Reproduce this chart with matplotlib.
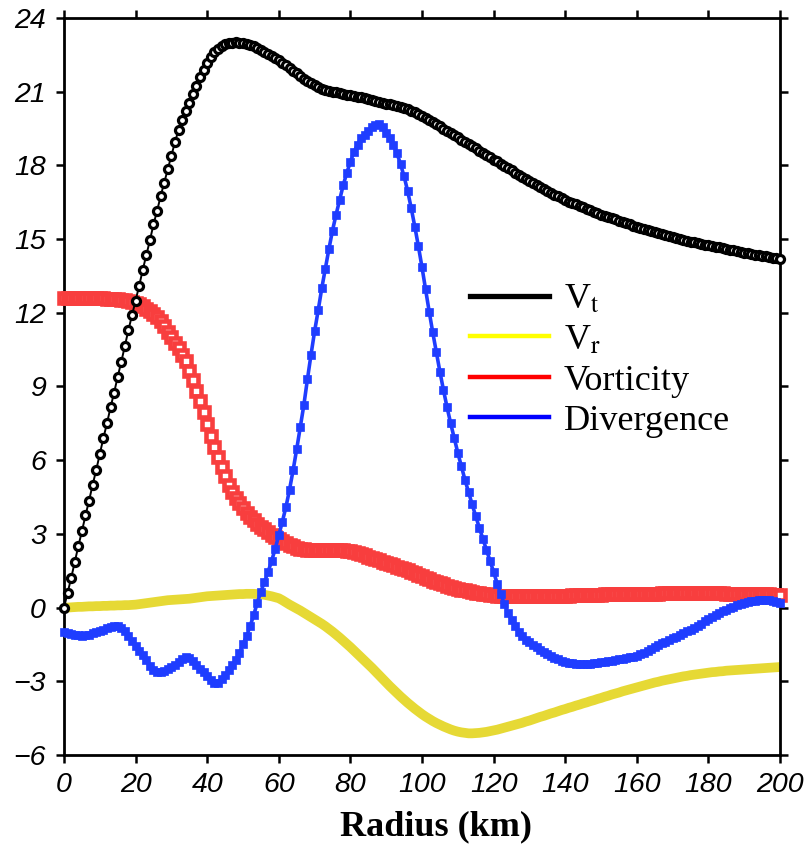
"""Radial profiles of tangential/radial wind, vorticity and divergence."""
import matplotlib

matplotlib.use("Agg")

import matplotlib.pyplot as plt  # noqa: E402
import numpy as np  # noqa: E402
from matplotlib.lines import Line2D  # noqa: E402

radius = np.arange(0, 201)  # km, one sample per km

vt = [
    0.0, 0.6, 1.2, 1.85, 2.5, 3.1, 3.75, 4.35, 5.0, 5.6,
    6.25, 6.9, 7.5, 8.15, 8.75, 9.4, 10.0, 10.65, 11.3, 11.9,
    12.5, 13.1, 13.75, 14.35, 14.95, 15.6, 16.15, 16.75, 17.3, 17.85,
    18.4, 18.95, 19.45, 19.85, 20.2, 20.55, 20.9, 21.25, 21.6, 21.9,
    22.15, 22.4, 22.6, 22.75, 22.85, 22.93, 22.98, 23.0, 23.02, 23.0,
    22.98, 22.95, 22.9, 22.85, 22.78, 22.7, 22.62, 22.53, 22.45, 22.37,
    22.28, 22.18, 22.08, 21.97, 21.86, 21.75, 21.64, 21.53, 21.43, 21.34,
    21.26, 21.19, 21.13, 21.08, 21.04, 21.0, 20.97, 20.94, 20.91, 20.88,
    20.85, 20.83, 20.8, 20.77, 20.74, 20.7, 20.67, 20.63, 20.6, 20.56,
    20.52, 20.49, 20.45, 20.41, 20.37, 20.33, 20.28, 20.22, 20.16, 20.1,
    20.03, 19.95, 19.86, 19.77, 19.68, 19.59, 19.5, 19.41, 19.32, 19.23,
    19.14, 19.05, 18.96, 18.87, 18.78, 18.69, 18.6, 18.51, 18.42, 18.33,
    18.24, 18.16, 18.07, 17.98, 17.89, 17.8, 17.71, 17.62, 17.53, 17.44,
    17.35, 17.27, 17.19, 17.11, 17.03, 16.95, 16.88, 16.81, 16.74, 16.67,
    16.6, 16.53, 16.47, 16.41, 16.35, 16.29, 16.23, 16.17, 16.11, 16.05,
    16.0, 15.95, 15.9, 15.85, 15.8, 15.75, 15.7, 15.65, 15.6, 15.55,
    15.5, 15.45, 15.41, 15.36, 15.32, 15.27, 15.23, 15.19, 15.15, 15.11,
    15.07, 15.04, 15.0, 14.97, 14.93, 14.9, 14.87, 14.84, 14.81, 14.78,
    14.75, 14.72, 14.69, 14.66, 14.63, 14.6, 14.57, 14.54, 14.51, 14.48,
    14.45, 14.42, 14.4, 14.37, 14.35, 14.32, 14.3, 14.27, 14.25, 14.22,
    14.2,
]

vr = [
    0.0, 0.0, 0.01, 0.02, 0.03, 0.03, 0.04, 0.05, 0.05, 0.06,
    0.06, 0.07, 0.07, 0.08, 0.08, 0.09, 0.09, 0.1, 0.1, 0.11,
    0.12, 0.14, 0.16, 0.18, 0.2, 0.22, 0.24, 0.26, 0.28, 0.3,
    0.31, 0.32, 0.33, 0.34, 0.35, 0.36, 0.38, 0.4, 0.42, 0.44,
    0.46, 0.47, 0.48, 0.49, 0.5, 0.51, 0.52, 0.53, 0.54, 0.55,
    0.55, 0.56, 0.56, 0.56, 0.55, 0.54, 0.52, 0.49, 0.46, 0.42,
    0.38, 0.3, 0.21, 0.12, 0.04, -0.04, -0.12, -0.21, -0.3, -0.39,
    -0.48, -0.57, -0.66, -0.76, -0.87, -0.98, -1.1, -1.22, -1.35, -1.48,
    -1.61, -1.75, -1.89, -2.03, -2.17, -2.31, -2.45, -2.6, -2.75, -2.9,
    -3.05, -3.2, -3.34, -3.48, -3.62, -3.75, -3.88, -4.0, -4.12, -4.23,
    -4.34, -4.44, -4.53, -4.62, -4.7, -4.77, -4.84, -4.9, -4.96, -5.01,
    -5.05, -5.08, -5.1, -5.12, -5.12, -5.11, -5.1, -5.08, -5.06, -5.03,
    -5.0, -4.97, -4.93, -4.89, -4.85, -4.81, -4.77, -4.73, -4.69, -4.64,
    -4.6, -4.55, -4.5, -4.45, -4.41, -4.36, -4.31, -4.27, -4.22, -4.17,
    -4.13, -4.08, -4.04, -3.99, -3.95, -3.9, -3.86, -3.81, -3.77, -3.72,
    -3.68, -3.63, -3.59, -3.54, -3.5, -3.46, -3.41, -3.37, -3.33, -3.29,
    -3.25, -3.21, -3.17, -3.13, -3.09, -3.05, -3.02, -2.98, -2.95, -2.92,
    -2.89, -2.86, -2.83, -2.8, -2.78, -2.75, -2.73, -2.71, -2.69, -2.67,
    -2.65, -2.63, -2.62, -2.6, -2.59, -2.57, -2.56, -2.55, -2.54, -2.53,
    -2.52, -2.51, -2.5, -2.49, -2.48, -2.47, -2.46, -2.45, -2.44, -2.43,
    -2.42,
]

vorticity = [
    12.6, 12.6, 12.61, 12.61, 12.6, 12.6, 12.59, 12.59, 12.6, 12.6,
    12.6, 12.59, 12.58, 12.58, 12.57, 12.56, 12.54, 12.52, 12.49, 12.45,
    12.4, 12.34, 12.26, 12.17, 12.07, 11.95, 11.82, 11.65, 11.45, 11.22,
    11.0, 10.77, 10.55, 10.3, 10.02, 9.65, 9.25, 8.82, 8.4, 7.95,
    7.48, 7.0, 6.52, 6.12, 5.73, 5.35, 5.0, 4.72, 4.48, 4.27,
    4.05, 3.85, 3.7, 3.55, 3.42, 3.3, 3.18, 3.07, 2.97, 2.88,
    2.79, 2.7, 2.62, 2.55, 2.49, 2.44, 2.4, 2.37, 2.35, 2.34,
    2.33, 2.33, 2.33, 2.34, 2.35, 2.35, 2.36, 2.35, 2.34, 2.32,
    2.3, 2.27, 2.23, 2.18, 2.13, 2.07, 2.02, 1.97, 1.92, 1.87,
    1.82, 1.77, 1.72, 1.67, 1.62, 1.57, 1.52, 1.46, 1.4, 1.34,
    1.28, 1.22, 1.16, 1.1, 1.04, 0.99, 0.94, 0.89, 0.85, 0.81,
    0.77, 0.73, 0.7, 0.67, 0.64, 0.61, 0.58, 0.56, 0.54, 0.52,
    0.5, 0.49, 0.48, 0.47, 0.47, 0.46, 0.46, 0.46, 0.46, 0.46,
    0.46, 0.46, 0.46, 0.46, 0.47, 0.47, 0.47, 0.48, 0.48, 0.48,
    0.49, 0.49, 0.5, 0.5, 0.51, 0.51, 0.52, 0.52, 0.53, 0.53,
    0.53, 0.54, 0.54, 0.54, 0.55, 0.55, 0.55, 0.55, 0.56, 0.56,
    0.56, 0.56, 0.57, 0.57, 0.57, 0.57, 0.57, 0.58, 0.58, 0.58,
    0.58, 0.58, 0.58, 0.58, 0.58, 0.58, 0.58, 0.58, 0.58, 0.58,
    0.58, 0.58, 0.58, 0.58, 0.58, 0.57, 0.57, 0.57, 0.57, 0.57,
    0.56, 0.56, 0.56, 0.55, 0.55, 0.55, 0.54, 0.54, 0.53, 0.53,
    0.52,
]

divergence = [
    -1.0, -1.05, -1.08, -1.1, -1.12, -1.14, -1.13, -1.1, -1.05, -1.0,
    -0.95, -0.9, -0.85, -0.8, -0.77, -0.76, -0.82, -0.95, -1.15, -1.35,
    -1.55, -1.75, -1.95, -2.15, -2.38, -2.55, -2.63, -2.62, -2.57, -2.5,
    -2.42, -2.33, -2.22, -2.1, -2.02, -2.05, -2.18, -2.33, -2.48, -2.63,
    -2.78, -2.93, -3.05, -3.06, -2.92, -2.75, -2.55, -2.35, -2.15, -1.85,
    -1.5, -1.15, -0.75, -0.3, 0.2, 0.65, 1.05, 1.45, 1.9, 2.4,
    2.95, 3.5, 4.1, 4.8, 5.6, 6.45, 7.35, 8.25, 9.3, 10.3,
    11.25, 12.1, 13.0, 13.8, 14.6, 15.35, 16.0, 16.6, 17.2, 17.7,
    18.15, 18.55, 18.85, 19.1, 19.25, 19.4, 19.55, 19.65, 19.7, 19.55,
    19.3, 19.1, 18.85, 18.5, 18.05, 17.55, 16.95, 16.25, 15.5, 14.7,
    13.85, 12.95, 12.05, 11.2, 10.4, 9.6, 8.85, 8.15, 7.5, 6.9,
    6.3, 5.75, 5.2, 4.7, 4.2, 3.72, 3.25, 2.8, 2.35, 1.9,
    1.45, 0.98, 0.55, 0.15, -0.22, -0.5, -0.76, -1.0, -1.17, -1.3,
    -1.42, -1.52, -1.62, -1.72, -1.82, -1.9, -1.98, -2.05, -2.11, -2.16,
    -2.2, -2.24, -2.27, -2.29, -2.3, -2.3, -2.29, -2.28, -2.27, -2.25,
    -2.23, -2.21, -2.19, -2.16, -2.13, -2.1, -2.08, -2.05, -2.02, -2.0,
    -1.96, -1.91, -1.85, -1.78, -1.7, -1.62, -1.54, -1.46, -1.39, -1.32,
    -1.25, -1.18, -1.11, -1.04, -0.97, -0.9, -0.82, -0.74, -0.65, -0.56,
    -0.47, -0.38, -0.3, -0.22, -0.15, -0.08, -0.02, 0.04, 0.1, 0.15,
    0.2, 0.23, 0.26, 0.28, 0.3, 0.31, 0.31, 0.3, 0.27, 0.22,
    0.17,
]

XTICKS = list(range(0, 201, 20))
YTICKS = list(range(-6, 25, 3))

YELLOW = "#e6d935"
RED = "#f83e3e"
BLUE = "#1f3dff"

plt.rcParams["mathtext.fontset"] = "stix"

fig = plt.figure(figsize=(8.09, 8.46), dpi=100)
ax = fig.add_axes([0.0791, 0.1076, 0.8851, 0.8711])

ax.plot(radius, vr, color=YELLOW, lw=7.0, solid_capstyle="butt",
        clip_on=False, zorder=2)
ax.plot(radius, vorticity, ls="none", marker="s", ms=6.6, mfc="white",
        mec=RED, mew=3.3, clip_on=False, zorder=3)
ax.plot(radius, vt, color="black", lw=1.4, marker="o", ms=5.8, mfc="white",
        mec="black", mew=2.3, clip_on=False, zorder=4)
ax.plot(radius, divergence, color=BLUE, lw=2.6, marker="s", ms=6.0,
        mfc=BLUE, mec=BLUE, mew=0.5, clip_on=False, zorder=5)

ax.set_xlim(0, 200)
ax.set_ylim(-6, 24)
ax.set_xticks(XTICKS)
ax.set_yticks(YTICKS)
for s in ax.spines.values():
    s.set_linewidth(2.0)
ax.tick_params(axis="both", direction="out", length=6, width=1.8,
               top=True, right=True, labelsize=20.5)
ax.tick_params(axis="x", pad=6)
ax.tick_params(axis="y", pad=7)
for lab in ax.get_xticklabels() + ax.get_yticklabels():
    lab.set_family("Liberation Sans")
    lab.set_style("italic")

ax.set_xlabel("Radius (km)", family="Liberation Serif", weight="bold",
              fontsize=26)
ax.xaxis.set_label_coords(0.52, -0.075)

handles = [
    Line2D([], [], color="black", lw=3.8),
    Line2D([], [], color="#ffff00", lw=3.2),
    Line2D([], [], color="#ff0000", lw=3.2),
    Line2D([], [], color="#0000ff", lw=3.2),
]
labels = [r"V$_\mathrm{t}$", r"V$_\mathrm{r}$", "Vorticity", "Divergence"]
ax.legend(handles, labels, loc="upper left", bbox_to_anchor=(0.567, 0.64),
          frameon=False, prop={"family": "Liberation Serif", "size": 26},
          handlelength=2.2, handletextpad=0.4, labelspacing=0.2,
          borderpad=0, borderaxespad=0)

fig.savefig("out.png", dpi=100)
